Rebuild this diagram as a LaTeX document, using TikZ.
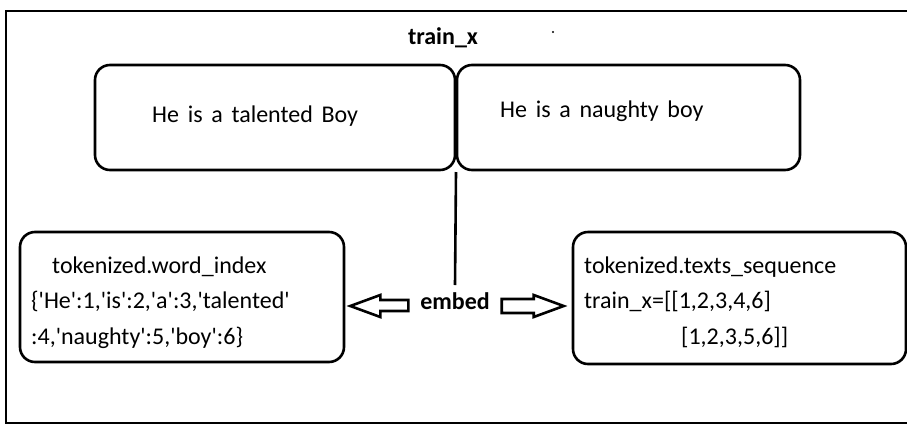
\documentclass[tikz,border=0pt]{standalone}
\usepackage{fontspec}
\setmainfont{Carlito}[WordSpace=1.6]
\usetikzlibrary{calc}
\newcommand{\sq}{\textquotesingle}
\begin{document}
\begin{tikzpicture}[x=1pt,y=-1pt,
  box/.style={draw, line width=2.6pt, rounded corners=15pt, inner sep=0pt},
  txt/.style={font=\fontsize{24}{28}\selectfont, inner sep=0pt, anchor=west,
              text height=0.72em, text depth=0.22em, yshift=-4pt},
  head/.style={font=\fontsize{24}{28}\selectfont\bfseries, inner sep=0pt,
              text height=0.72em, text depth=0.22em, yshift=-4pt},
  link/.style={line width=2.6pt},
  fatarrow/.style={draw, line width=2.6pt, fill=white, line join=miter}]
\useasboundingbox (0,0) rectangle (907,426);
\fill[white] (0,0) rectangle (907,426);

% outer frame, open on the right
\draw[line width=2.8pt] (907,11) -- (6,11) -- (6,423) -- (907,423);

% title
\node[head] (title) at (443,38) {train\_x};
\fill (553,32) circle (1.2pt);

% the two training sentences
\node[box, minimum width=360, minimum height=105] (s1) at (275,117.5) {};
\node[box, minimum width=343, minimum height=105] (s2) at (628.5,117.5) {};
\node[txt] (s1t) at (152,116) {He is a talented Boy};
\node[txt] (s2t) at (500,111) {He is a naughty boy};

% embed label and its stem
\node[head] (embed) at (455,303) {embed};
\coordinate (join) at (456,172);
\draw[link] (join) -- (embed.north |- 0,285);

% word index box
\node[box, minimum width=324, minimum height=130] (wi) at (182,297) {};
\node[txt] (wi1) at (52,267) {tokenized.word\_index};
\node[txt] (wi2) at (31,302) {\{\sq He\sq:1,\sq is\sq:2,\sq a\sq:3,\sq talented\sq};
\node[txt] (wi3) at (31,338) {:4,\sq naughty\sq:5,\sq boy\sq:6\}};

% sequence box
\node[box, minimum width=333, minimum height=132] (ts) at (739.5,298) {};
\node[txt] (ts1) at (584,267) {tokenized.texts\_sequence};
\node[txt] (ts2) at (584,302) {train\_x=[[1,2,3,4,6]};
\node[txt] (ts3) at (681,338) {[1,2,3,5,6]]};

% hollow block arrows from the label to the boxes
\coordinate (lt) at ($(wi.east |- embed.west)+(5,-1)$);
\draw[fatarrow] (lt) -- ++(30,-11) -- ++(0,5) -- ++(28,0) -- ++(0,11)
  -- ++(-28,0) -- ++(0,6) -- cycle;
\coordinate (rt) at ($(ts.west |- embed.west)+(-8,-1)$);
\draw[fatarrow] (rt) -- ++(-30,-11) -- ++(0,4) -- ++(-32,0) -- ++(0,14)
  -- ++(32,0) -- ++(0,4) -- cycle;
\end{tikzpicture}
\end{document}
